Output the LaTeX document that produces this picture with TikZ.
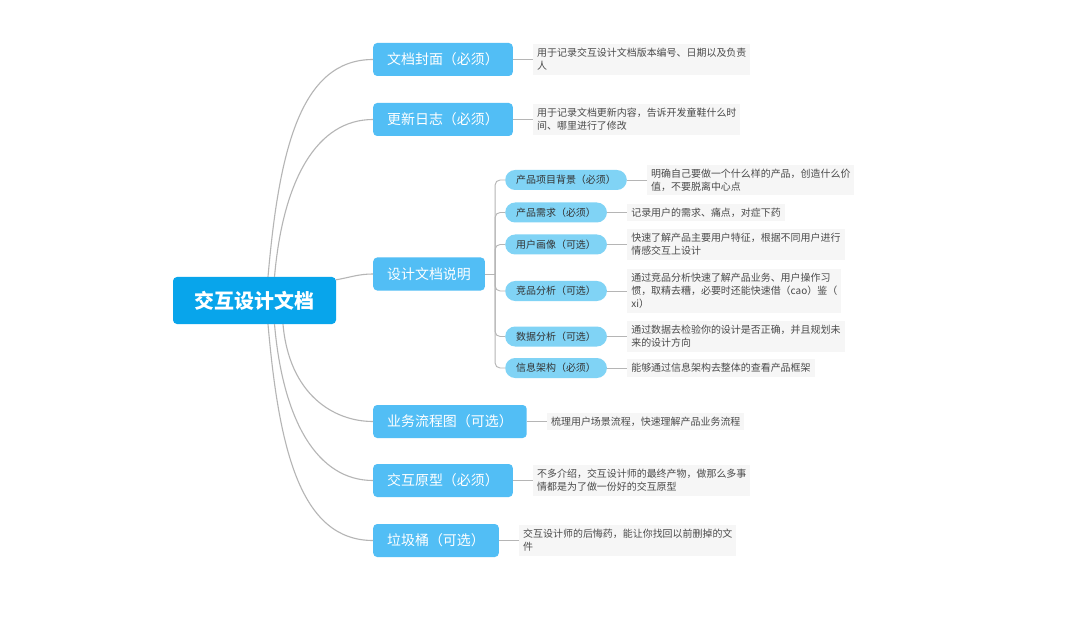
\documentclass[tikz,border=0pt]{standalone}
\usepackage{fontspec}
\setmainfont{Noto Sans CJK SC}
\usepackage{tikz}
\usetikzlibrary{positioning}

\definecolor{rootblue}{HTML}{08A5EB}
\definecolor{topicblue}{HTML}{52BEF5}
\definecolor{subblue}{HTML}{80D3F5}
\definecolor{notegray}{HTML}{F6F6F6}
\definecolor{linkgray}{HTML}{B5B5B5}
\definecolor{notetext}{HTML}{4A4A4A}

\begin{document}
\begin{tikzpicture}[
    x=1bp, y=-1bp,
    rootbox/.style={rectangle, fill=rootblue, rounded corners=4bp, minimum width=163bp, minimum height=47bp, text=white, font=\bfseries\fontsize{20}{24}\selectfont},
    topicbox/.style={rectangle, fill=topicblue, rounded corners=4bp, anchor=west, inner xsep=14bp, minimum height=33bp, text=white, font=\fontsize{14}{16}\selectfont},
    subbox/.style={rectangle, fill=subblue, rounded corners=10bp, anchor=west, inner xsep=11bp, minimum height=20bp, text=black!80, font=\fontsize{10}{12}\selectfont},
    notebox/.style={rectangle, fill=notegray, align=left, inner xsep=4bp, inner ysep=4bp, text=notetext, font=\fontsize{10}{13}\selectfont},
    link/.style={draw=linkgray, line width=1.1bp, out looseness=1.35, in looseness=0.77},
    sublink/.style={draw=linkgray, line width=0.9bp}
]
\useasboundingbox[fill=white] (0,0) rectangle (1080,622);

% Left: root
\node[rootbox] (root) at (254.5,300.5) {交互设计文档};

% Middle: first level topics
\node[topicbox] (cover) at (373,59.5) {文档封面（必须）};
\node[topicbox] (log) at (373,119.5) {更新日志（必须）};
\node[topicbox] (spec) at (373,274) {设计文档说明};
\node[topicbox] (flow) at (373,421.5) {业务流程图（可选）};
\node[topicbox] (proto) at (373,480.5) {交互原型（必须）};
\node[topicbox] (trash) at (373,540.5) {垃圾桶（可选）};

% Notes of the topics
\node[notebox, anchor=west, right=20bp of cover] (covernote) {用于记录交互设计文档版本编号、日期以及负责\\人};
\node[notebox, anchor=west, right=20bp of log] (lognote) {用于记录文档更新内容，告诉开发童鞋什么时\\间、哪里进行了修改};
\node[notebox, anchor=west, right=20bp of flow] (flownote) {梳理用户场景流程，快速理解产品业务流程};
\node[notebox, anchor=west, right=20bp of proto] (protonote) {不多介绍，交互设计师的最终产物，做那么多事\\情都是为了做一份好的交互原型};
\node[notebox, anchor=west, right=20bp of trash] (trashnote) {交互设计师的后悔药，能让你找回以前删掉的文\\件};

% Right: sub topics of the spec
\node[subbox] (bg) at (505,180) {产品项目背景（必须）};
\node[subbox] (need) at (505,212.5) {产品需求（必须）};
\node[subbox] (persona) at (505,244.5) {用户画像（可选）};
\node[subbox] (rival) at (505,291) {竞品分析（可选）};
\node[subbox] (data) at (505,336.5) {数据分析（可选）};
\node[subbox] (arch) at (505,368) {信息架构（必须）};

\node[notebox, anchor=west, right=20bp of bg] (bgnote) {明确自己要做一个什么样的产品，创造什么价\\值，不要脱离中心点};
\node[notebox, anchor=west, right=20bp of need] (neednote) {记录用户的需求、痛点，对症下药};
\node[notebox, anchor=west, right=20bp of persona] (personanote) {快速了解产品主要用户特征，根据不同用户进行\\情感交互上设计};
\node[notebox, anchor=west, right=20bp of rival] (rivalnote) {通过竞品分析快速了解产品业务、用户操作习\\惯，取精去糟，必要时还能快速借（cao）鉴（\\xi）};
\node[notebox, anchor=west, right=20bp of data] (datanote) {通过数据去检验你的设计是否正确，并且规划未\\来的设计方向};
\node[notebox, anchor=west, right=20bp of arch] (archnote) {能够通过信息架构去整体的查看产品框架};

% Connect root to topics
\draw[link] ([xshift=13.5bp]root.north) to[out=85,in=180] (cover.west);
\draw[link] ([xshift=20bp]root.north) to[out=85,in=180] (log.west);
\draw[link] ([yshift=-3bp]root.north east) to[out=10,in=180,looseness=1] (spec.west);
\draw[link] ([xshift=28.5bp]root.south) to[out=-85,in=180] (flow.west);
\draw[link] ([xshift=20bp]root.south) to[out=-85,in=180] (proto.west);
\draw[link] ([xshift=13.5bp]root.south) to[out=-85,in=180] (trash.west);

% Topics to notes
\foreach \t in {cover,log,flow,proto,trash}
  \draw[sublink] (\t.east) -- (\t note.west);

% Spec to sub topics
\draw[sublink] (spec.east) -- ++(10bp,0) coordinate (hub);
\foreach \s in {bg,need,persona,rival,data,arch}{
  \draw[sublink, rounded corners=5bp] (hub) |- (\s.west);
  \draw[sublink] (\s.east) -- (\s note.west);
}

\end{tikzpicture}
\end{document}
